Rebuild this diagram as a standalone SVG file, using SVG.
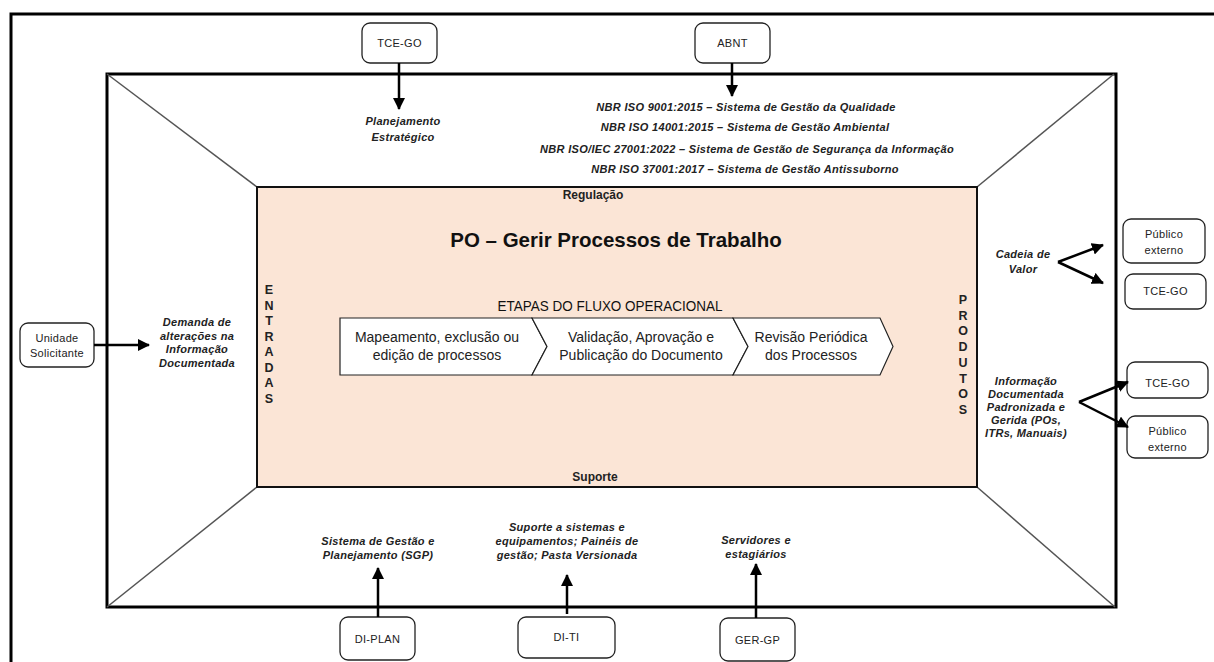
<svg xmlns="http://www.w3.org/2000/svg" width="1214" height="662" viewBox="0 0 1214 662">
<defs>
<style>
.frame{fill:none;stroke:#000;stroke-width:3}
.diag{stroke:#555;stroke-width:1.5}
.box{fill:#fff;stroke:#222;stroke-width:1.3}
.bt{font-family:"Liberation Sans",Arial,sans-serif;font-size:11px;letter-spacing:0.3px;fill:#222;text-anchor:middle}
.lab{font-family:"Liberation Sans",Arial,sans-serif;font-size:11px;font-weight:bold;font-style:italic;letter-spacing:0.3px;fill:#222;text-anchor:middle}
.vl{font-family:"Liberation Sans",Arial,sans-serif;font-size:12.5px;font-weight:bold;fill:#222;text-anchor:middle}
.sec{font-family:"Liberation Sans",Arial,sans-serif;font-size:12px;font-weight:bold;fill:#222;text-anchor:middle}
.chev{fill:#fff;stroke:#222;stroke-width:1.2}
.ct{font-family:"Liberation Sans",Arial,sans-serif;font-size:14px;fill:#222;text-anchor:middle}
.arr{stroke:#000;stroke-width:2.5;fill:none}
</style>
<marker id="ah" viewBox="0 0 12 12" refX="11" refY="6" markerWidth="12" markerHeight="12" markerUnits="userSpaceOnUse" orient="auto">
<path d="M0,0 L12,6 L0,12 Z" fill="#000"/>
</marker>
</defs>
<rect width="1214" height="662" fill="#fff"/>
<g id="frames">
<rect class="frame" x="11" y="14" width="1220" height="660"/>
<rect class="frame" x="107" y="74" width="1009" height="533"/>
<line class="diag" x1="107" y1="74" x2="257" y2="187"/>
<line class="diag" x1="1114" y1="74" x2="977" y2="187"/>
<line class="diag" x1="107" y1="607" x2="257" y2="487"/>
<line class="diag" x1="977" y1="487" x2="1115" y2="607"/>
</g>
<g id="process">
<rect x="257" y="187" width="720" height="300" fill="#FBE5D6" stroke="#111" stroke-width="2"/>
<text class="sec" x="593" y="199">Regulação</text>
<text class="sec" x="595" y="481">Suporte</text>
<text x="616" y="247" font-family="Liberation Sans,Arial,sans-serif" font-size="20.5" font-weight="bold" fill="#111" text-anchor="middle">PO – Gerir Processos de Trabalho</text>
<text x="610" y="311" font-family="Liberation Sans,Arial,sans-serif" font-size="14" fill="#111" text-anchor="middle" textLength="225" lengthAdjust="spacingAndGlyphs">ETAPAS DO FLUXO OPERACIONAL</text>
<g class="vl">
<text x="269" y="294">E</text><text x="269" y="309.5">N</text><text x="269" y="325">T</text><text x="269" y="340.5">R</text><text x="269" y="356">A</text><text x="269" y="371.5">D</text><text x="269" y="387">A</text><text x="269" y="402.5">S</text>
</g>
<g class="vl">
<text x="963" y="304">P</text><text x="963" y="319.7">R</text><text x="963" y="335.4">O</text><text x="963" y="351">D</text><text x="963" y="366.8">U</text><text x="963" y="382.5">T</text><text x="963" y="398.2">O</text><text x="963" y="414">S</text>
</g>
</g>
<g id="step1">
<path class="chev" d="M340,318 L532,318 L547,346.5 L532,375 L340,375 Z"/>
<text class="ct" x="437" y="342">Mapeamento, exclusão ou</text>
<text class="ct" x="437" y="360">edição de processos</text>
</g>
<g id="step2">
<path class="chev" d="M532,318 L733,318 L748,346.5 L733,375 L532,375 L547,346.5 Z"/>
<text class="ct" x="641" y="342">Validação, Aprovação e</text>
<text class="ct" x="641" y="360">Publicação do Documento</text>
</g>
<g id="step3">
<path class="chev" d="M733,318 L880,318 L893,346.5 L880,375 L733,375 L748,346.5 Z"/>
<text class="ct" x="811" y="342">Revisão Periódica</text>
<text class="ct" x="811" y="360">dos Processos</text>
</g>
<g id="tce-top">
<rect class="box" x="362" y="23" width="75" height="40" rx="8"/>
<text class="bt" x="399.5" y="47">TCE-GO</text>
</g>
<g id="abnt">
<rect class="box" x="695" y="23" width="75" height="40" rx="8"/>
<text class="bt" x="732.5" y="47">ABNT</text>
</g>
<g id="unidade">
<rect class="box" x="20" y="323" width="74" height="44" rx="8"/>
<text class="bt" x="57" y="342">Unidade</text>
<text class="bt" x="57" y="357">Solicitante</text>
</g>
<g id="publico1">
<rect class="box" x="1123" y="219" width="82" height="44" rx="8"/>
<text class="bt" x="1164" y="238">Público</text>
<text class="bt" x="1164" y="254">externo</text>
</g>
<g id="tce-r1">
<rect class="box" x="1125" y="274" width="81" height="35" rx="8"/>
<text class="bt" x="1165.5" y="295">TCE-GO</text>
</g>
<g id="tce-r2">
<rect class="box" x="1127" y="362" width="81" height="36" rx="8"/>
<text class="bt" x="1167.5" y="387">TCE-GO</text>
</g>
<g id="publico2">
<rect class="box" x="1127" y="416" width="81" height="42" rx="8"/>
<text class="bt" x="1167.5" y="435">Público</text>
<text class="bt" x="1167.5" y="451">externo</text>
</g>
<g id="diplan">
<rect class="box" x="340" y="617" width="75" height="43" rx="8"/>
<text class="bt" x="377.5" y="643">DI-PLAN</text>
</g>
<g id="diti">
<rect class="box" x="518" y="617" width="97" height="41" rx="8"/>
<text class="bt" x="566.5" y="641">DI-TI</text>
</g>
<g id="gergp">
<rect class="box" x="720" y="618" width="75" height="43" rx="8"/>
<text class="bt" x="757.5" y="644">GER-GP</text>
</g>
<g id="labels">
<text class="lab" x="403" y="125">Planejamento</text>
<text class="lab" x="403" y="141">Estratégico</text>
<text class="lab" x="746" y="110.5">NBR ISO 9001:2015 – Sistema de Gestão da Qualidade</text>
<text class="lab" x="745" y="131">NBR ISO 14001:2015 – Sistema de Gestão Ambiental</text>
<text class="lab" x="747" y="153">NBR ISO/IEC 27001:2022 – Sistema de Gestão de Segurança da Informação</text>
<text class="lab" x="745" y="173">NBR ISO 37001:2017 – Sistema de Gestão Antissuborno</text>
<text class="lab" x="197" y="326">Demanda de</text>
<text class="lab" x="197" y="339.5">alterações na</text>
<text class="lab" x="197" y="353">Informação</text>
<text class="lab" x="197" y="366.5">Documentada</text>
<text class="lab" x="1023" y="258">Cadeia de</text>
<text class="lab" x="1023" y="273">Valor</text>
<text class="lab" x="1026" y="385">Informação</text>
<text class="lab" x="1026" y="398">Documentada</text>
<text class="lab" x="1026" y="411">Padronizada e</text>
<text class="lab" x="1026" y="424">Gerida (POs,</text>
<text class="lab" x="1026" y="437">ITRs, Manuais)</text>
<text class="lab" x="378" y="545">Sistema de Gestão e</text>
<text class="lab" x="378" y="559">Planejamento (SGP)</text>
<text class="lab" x="567" y="531">Suporte a sistemas e</text>
<text class="lab" x="567" y="545">equipamentos; Painéis de</text>
<text class="lab" x="567" y="559">gestão; Pasta Versionada</text>
<text class="lab" x="756" y="544">Servidores e</text>
<text class="lab" x="756" y="558">estagiários</text>
</g>
<g id="connectors">
<line class="arr" x1="399" y1="63" x2="399" y2="109" marker-end="url(#ah)"/>
<line class="arr" x1="732" y1="63" x2="732" y2="96" marker-end="url(#ah)"/>
<line class="arr" x1="94" y1="345" x2="149" y2="345" marker-end="url(#ah)"/>
<line class="arr" x1="1058" y1="262" x2="1103" y2="245" marker-end="url(#ah)"/>
<line class="arr" x1="1058" y1="262" x2="1103" y2="283" marker-end="url(#ah)"/>
<line class="arr" x1="1079" y1="402" x2="1128" y2="382" marker-end="url(#ah)"/>
<line class="arr" x1="1079" y1="402" x2="1128" y2="427" marker-end="url(#ah)"/>
<line class="arr" x1="378" y1="617" x2="378" y2="568" marker-end="url(#ah)"/>
<line class="arr" x1="567" y1="614" x2="567" y2="575" marker-end="url(#ah)"/>
<line class="arr" x1="756" y1="618" x2="756" y2="564" marker-end="url(#ah)"/>
</g>
</svg>
